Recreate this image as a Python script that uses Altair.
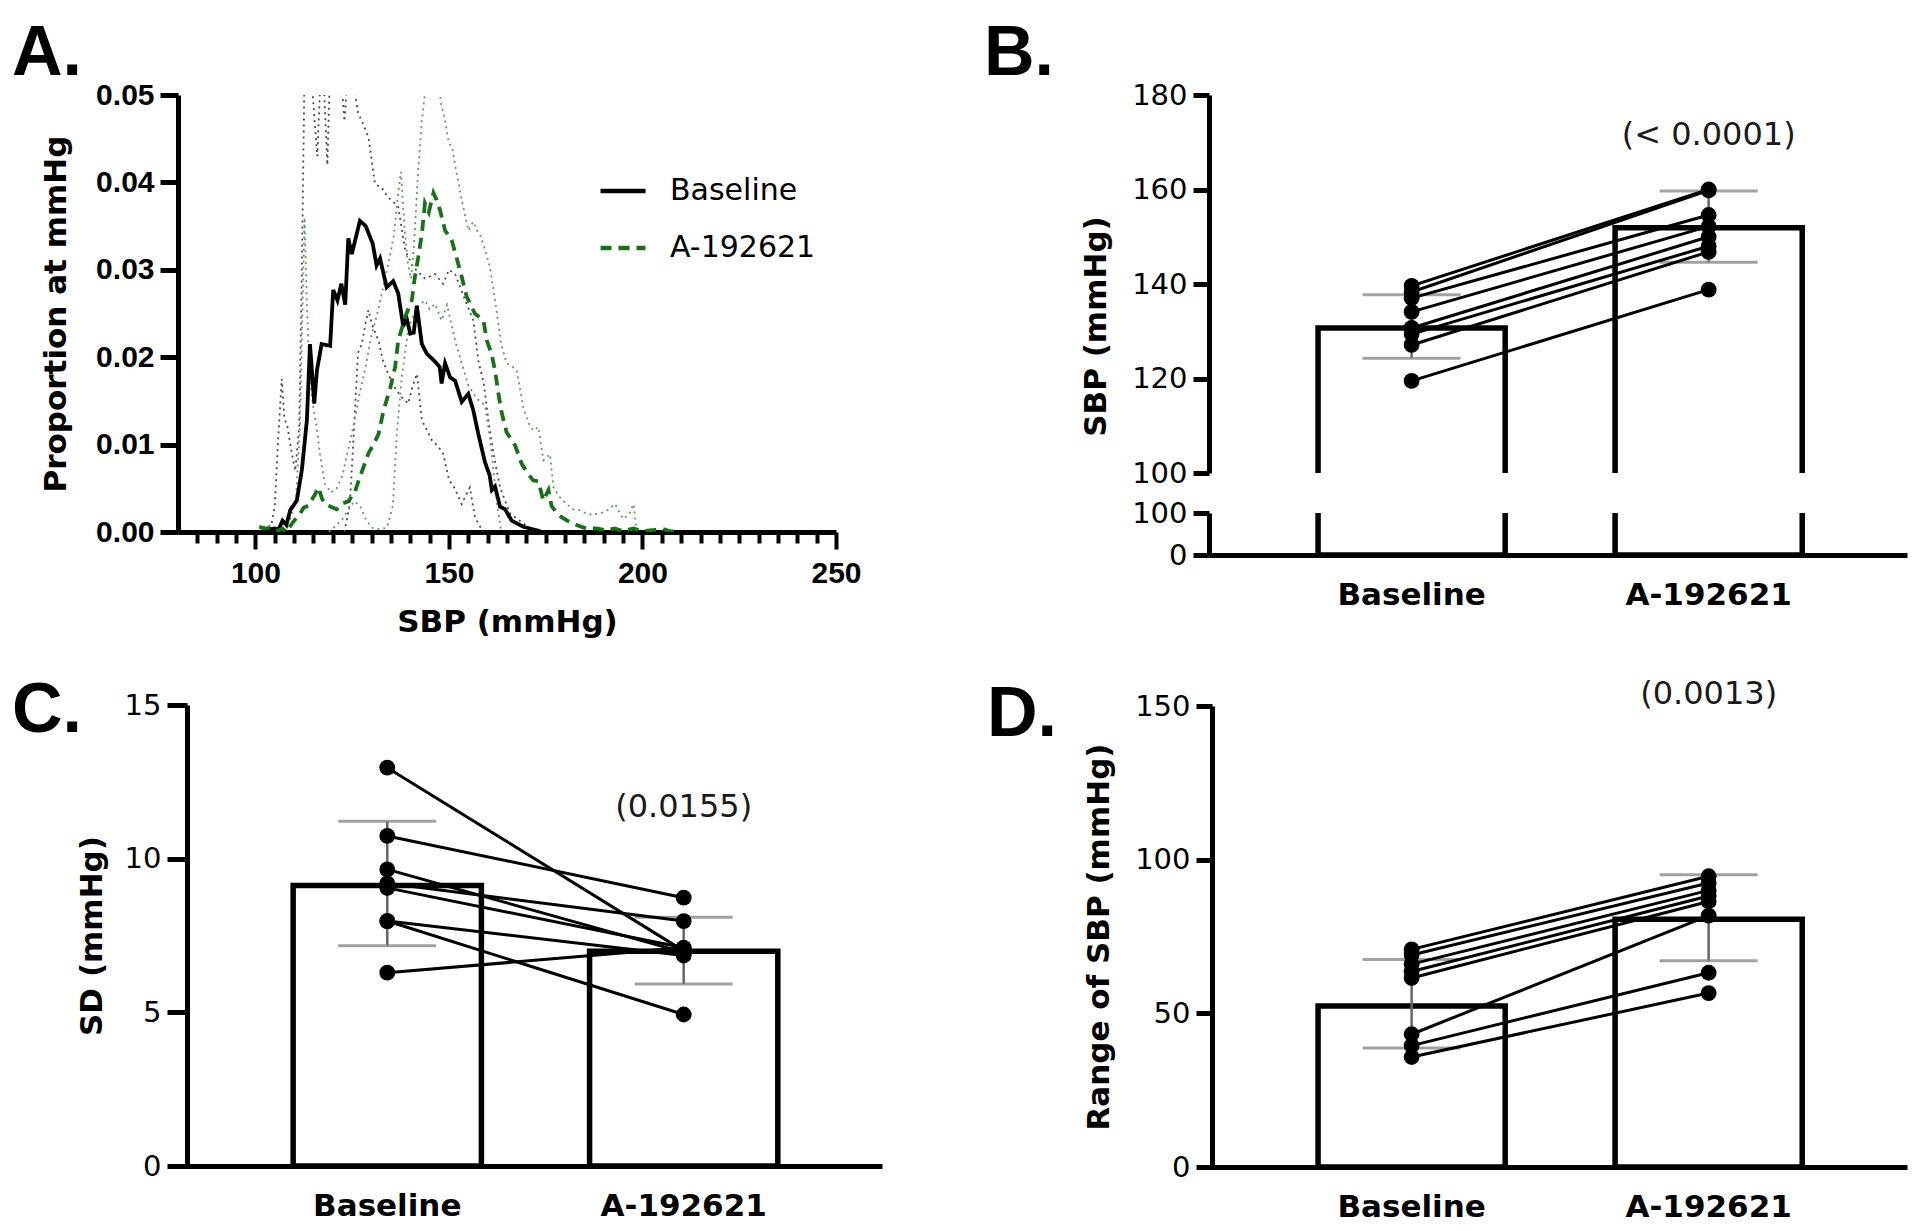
import altair as alt
import pandas as pd

FONT = "DejaVu Sans"
TICKFONT_A = "Liberation Sans"
LETTER_FONT = "Liberation Sans"
GROUPS = ["Baseline", "A-192621"]

# ---------------- Panel A: distribution of SBP ----------------
base_mean_sbp = [101, 103, 105, 106, 107, 108, 109, 110.7, 112, 113.3, 114.1, 115.2, 115.9, 117.1, 119.3, 120.1,
                 121.2, 122.2, 123.2, 124, 124.9, 127, 128.5, 130.3, 131.3, 132.2, 133.9, 135.6, 136.9, 138.2, 139,
                 140, 140.9, 141.7, 143, 144.3, 146.4, 147.6, 148.1, 149, 150.3, 151.6, 153.3, 155, 156.3, 157.6,
                 159.3, 160.5, 161.1, 161.9, 163.2, 164.5, 166.2, 169.2, 172.7, 174]
base_mean_prop = [0.0, 0.0002, 0.0004, 0.0003, 0.0013, 0.0008, 0.0025, 0.0036, 0.0071, 0.0128, 0.0215, 0.0147,
                  0.0185, 0.0215, 0.0213, 0.0277, 0.0265, 0.0284, 0.0260, 0.0336, 0.0318, 0.0356, 0.0350, 0.0330,
                  0.0305, 0.0313, 0.0280, 0.0287, 0.0273, 0.0235, 0.0246, 0.0227, 0.0228, 0.0259, 0.0215, 0.0204,
                  0.0195, 0.0189, 0.0170, 0.0193, 0.0177, 0.0173, 0.0149, 0.0158, 0.0139, 0.0112, 0.0080, 0.0065,
                  0.0048, 0.0052, 0.0029, 0.0026, 0.0013, 0.0006, 0.0002, 0.0]

drug_mean_sbp = [101, 102.5, 104, 105.5, 107, 108, 109.5, 111.5, 112.5, 113.7, 115, 116.3, 117.2, 118, 119.5, 121,
                 122.7, 124, 125.7, 127, 129.2, 130.5, 131.8, 133.1, 134.8, 136.1, 136.9, 138.7, 140.4, 141.2,
                 142.1, 143, 143.8, 144.8, 146, 146.8, 147.7, 149, 150.7, 151.6, 153.3, 154.6, 156.7, 158.9, 159.8,
                 161, 161.9, 162.8, 163.6, 164.9, 167.1, 168.8, 170.5, 171.8, 173.1, 174.4, 175.7, 176.5, 177.8,
                 179.1, 181, 183, 185.5, 188.2, 190.5, 192.8, 195, 197.7, 200, 202.5, 205, 207, 209.5]
drug_mean_prop = [0.0006, 0.0004, 0.0005, 0.0001, 0.0004, 0.0, 0.0010, 0.0021, 0.0028, 0.0030, 0.0040, 0.0051,
                  0.0038, 0.0032, 0.0029, 0.0026, 0.0033, 0.0035, 0.0046, 0.0063, 0.0090, 0.0100, 0.0112, 0.0139,
                  0.0164, 0.0189, 0.0219, 0.0246, 0.0265, 0.0292, 0.0315, 0.0341, 0.0376, 0.0366, 0.0388, 0.0380,
                  0.0368, 0.0345, 0.0334, 0.0320, 0.0292, 0.0269, 0.0250, 0.0242, 0.0219, 0.0204, 0.0185, 0.0158,
                  0.0137, 0.0114, 0.0099, 0.0078, 0.0066, 0.0059, 0.0058, 0.0036, 0.0048, 0.0030, 0.0022, 0.0017,
                  0.0012, 0.0008, 0.0004, 0.0004, 0.0002, 0.0004, 0.0001, 0.0004, 0.0001, 0.0002, 0.0004, 0.0001,
                  0.0]

base_upper_sbp = [102.5, 104, 105, 105.8, 106.8, 107.5, 108.3, 109.4, 110.3, 111.3, 112, 112.6, 113.3, 114.5,
                  115.3, 116, 116.8, 117.8, 118.6, 119.4, 121, 122.2, 123, 123.8, 125.5, 126.5, 127.5, 129.2,
                  130.9, 132.6, 134.3, 136.9, 138.7, 140.8, 143.8, 146.4, 148.5, 150, 151.6, 154.2, 156.3, 157.6,
                  159, 160.2, 161.5, 163.2, 165.8, 169.2, 171.8]
base_upper_prop = [0.0, 0.0005, 0.003, 0.010, 0.0175, 0.013, 0.012, 0.009, 0.007, 0.012, 0.030, 0.050, 0.056,
                   0.052, 0.047, 0.043, 0.052, 0.050, 0.042, 0.055, 0.056, 0.052, 0.047, 0.052, 0.051, 0.048, 0.047,
                   0.0452, 0.0398, 0.0394, 0.0383, 0.0372, 0.0322, 0.0303, 0.0290, 0.0295, 0.0284, 0.0300, 0.0295,
                   0.0265, 0.0242, 0.0196, 0.0170, 0.0128, 0.0090, 0.0051, 0.0021, 0.0010, 0.0]

base_lower_sbp = [123, 124.4, 125.5, 126.5, 127.5, 128.5, 129.2, 130.3, 131.8, 133, 134.3, 136, 137.8, 139.5,
                  140.5, 141.7, 143, 145.6, 147.2, 148.5, 150, 151.5, 153.3, 155.4, 156.7, 158.8]
base_lower_prop = [0.0, 0.0032, 0.012, 0.0205, 0.0215, 0.024, 0.0254, 0.0235, 0.0219, 0.0195, 0.0181, 0.0165,
                   0.0154, 0.0147, 0.0165, 0.0181, 0.0128, 0.0105, 0.0098, 0.0090, 0.0060, 0.0050, 0.0032, 0.0051,
                   0.0017, 0.0]

drug_upper_sbp = [101, 103, 105, 107, 109, 110.5, 111.5, 112.2, 112.7, 113.3, 114, 114.8, 115.8, 116.8, 118, 119.5,
                  121, 122.5, 124, 125.5, 127, 128.5, 130, 131.5, 133, 134.5, 135.8, 136.8, 137.6, 138.5, 139.3,
                  140.2, 141, 142, 143, 144, 145.5, 146.3, 147, 148, 149, 150, 150.8, 151.8, 153.3, 155, 156.3,
                  157.2, 158, 159.2, 160.6, 162.4, 163.5, 164.9, 166.2, 167.5, 169.2, 170.5, 171.8, 173.1, 174.4,
                  176.1, 177, 178.6, 180.4, 182, 183.8, 186, 189, 191, 192.9, 195, 196.5, 197.7, 198.5]
drug_upper_prop = [0.0, 0.0008, 0.0005, 0.0008, 0.0015, 0.004, 0.012, 0.026, 0.036, 0.026, 0.018, 0.0147, 0.012,
                   0.0085, 0.0055, 0.0045, 0.005, 0.0065, 0.0095, 0.0125, 0.016, 0.019, 0.0225, 0.025, 0.028, 0.031,
                   0.034, 0.0385, 0.0412, 0.035, 0.031, 0.029, 0.033, 0.041, 0.047, 0.051, 0.050, 0.053, 0.052,
                   0.049, 0.047, 0.0445, 0.044, 0.0415, 0.038, 0.0345, 0.0355, 0.0345, 0.0341, 0.0325, 0.0303,
                   0.0250, 0.0215, 0.0193, 0.0190, 0.0185, 0.0143, 0.0125, 0.0116, 0.0120, 0.0082, 0.0089, 0.0051,
                   0.0040, 0.0032, 0.0026, 0.0025, 0.0020, 0.0021, 0.0025, 0.0032, 0.0015, 0.0020, 0.0032, 0.0]

drug_lower_sbp = [119, 121, 122.5, 124, 125.5, 127, 128.5, 130, 132, 134, 135.5, 136.5, 137.8, 139.5, 141.7, 143.8,
                  145, 146.4, 148.1, 149.5, 151.6, 153.3, 155, 157.1, 159.3, 160.5, 161.5, 162.5, 163.5]
drug_lower_prop = [0.0, 0.0008, 0.0015, 0.0025, 0.0035, 0.003, 0.0015, 0.0005, 0.0003, 0.0005, 0.003, 0.011,
                   0.0177, 0.0233, 0.0257, 0.0265, 0.0255, 0.0261, 0.0242, 0.0260, 0.0219, 0.0193, 0.0168, 0.0153,
                   0.0145, 0.0110, 0.0070, 0.0030, 0.0]

# ---------------- Panel B: mean SBP ----------------
sbp_baseline = [139.6, 138.3, 137.0, 134.1, 130.7, 129.4, 127.1, 119.5]
sbp_drug = [160.0, 159.8, 154.6, 152.2, 150.0, 148.0, 146.8, 138.8]
sbp_bar = [130.7, 151.9]
sbp_err_lo = [124.3, 144.6]
sbp_err_hi = [137.7, 159.7]

# ---------------- Panel C: SD of SBP ----------------
sd_baseline = [12.96, 10.74, 9.65, 9.2, 9.05, 7.97, 7.97, 6.29]
sd_drug = [7.0, 8.73, 6.95, 7.97, 7.1, 6.85, 4.93, 7.1]
sd_bar = [9.13, 6.99]
sd_err_lo = [7.17, 5.92]
sd_err_hi = [11.22, 8.09]

# ---------------- Panel D: range of SBP ----------------
rng_baseline = [70.8, 69.0, 66.0, 63.6, 61.5, 43.2, 39.5, 35.8]
rng_drug = [94.6, 92.4, 90.0, 88.2, 86.4, 81.8, 63.2, 56.6]
rng_bar = [52.4, 80.6]
rng_err_lo = [38.7, 67.1]
rng_err_hi = [67.5, 95.1]

p_values = ["(< 0.0001)", "(0.0155)", "(0.0013)"]
p_value_y = [171.5, 11.68, 153.9]
panel_letters = ["A.", "B.", "C.", "D."]

LETTER_SIZE = 70


def curve(xs, ys, name):
    return pd.DataFrame({"sbp": xs, "prop": ys, "series": name})


mean_df = pd.concat([curve(base_mean_sbp, base_mean_prop, "Baseline"),
                     curve(drug_mean_sbp, drug_mean_prop, "A-192621")], ignore_index=True)
black_sd_df = pd.concat([curve(base_upper_sbp, base_upper_prop, "upper"),
                         curve(base_lower_sbp, base_lower_prop, "lower")], ignore_index=True)
green_sd_df = pd.concat([curve(drug_upper_sbp, drug_upper_prop, "upper"),
                         curve(drug_lower_sbp, drug_lower_prop, "lower")], ignore_index=True)


def letter_layer(text, x, y):
    return alt.Chart(pd.DataFrame({"t": [text]})).mark_text(
        align="left", baseline="alphabetic", font=LETTER_FONT, fontSize=LETTER_SIZE, fontWeight="bold",
        color="black"
    ).encode(x=alt.value(x), y=alt.value(y), text="t:N")


# ---------- Panel A chart ----------
A_W, A_H = 658, 437
xA = alt.X("sbp:Q", scale=alt.Scale(domain=[80, 250], nice=False, zero=False),
           axis=alt.Axis(values=list(range(85, 251, 5)),
                         labelExpr="datum.value % 50 === 0 ? datum.label : ''",
                         tickSize={"condition": {"test": "datum.value % 50 === 0", "value": 17}, "value": 11},
                         tickWidth=4, domainWidth=5, labelFont=TICKFONT_A, labelFontWeight="bold",
                         labelFontSize=30, labelPadding=9, labelFlush=False, labelOverlap=False,
                         title="SBP (mmHg)", titleFont=FONT, titleFontWeight="bold", titleFontSize=31,
                         titleY=75, titleBaseline="top"))
yA = alt.Y("prop:Q", scale=alt.Scale(domain=[0, 0.05], nice=False),
           axis=alt.Axis(values=[0, 0.01, 0.02, 0.03, 0.04, 0.05], format=".2f", tickSize=18, tickWidth=5,
                         domainWidth=5, labelPadding=6, labelFont=TICKFONT_A, labelFontWeight="bold",
                         labelFontSize=30, title="Proportion at mmHg", titleFont=FONT, titleFontWeight="bold",
                         titleFontSize=31, titleAngle=270, titleX=-122, titleY=A_H / 2,
                         titleBaseline="middle", titleAlign="center"))

legendA = alt.Legend(title=None, orient="none", legendX=420, legendY=71, symbolType="stroke", symbolSize=2025,
                     symbolStrokeWidth=4.5, labelFont=FONT, labelFontSize=30, labelColor="black",
                     labelOffset=22, rowPadding=17, padding=0)

dots_black = alt.Chart(black_sd_df).mark_line(color="#4a4a4a", strokeWidth=1.8, strokeDash=[2, 4], clip=True).encode(
    x=xA, y=yA, detail="series:N")
dots_green = alt.Chart(green_sd_df).mark_line(color="#5aa05a", strokeWidth=1.8, strokeDash=[2, 4], clip=True).encode(
    x=xA, y=yA, detail="series:N")
means = alt.Chart(mean_df).mark_line(strokeWidth=3.8, clip=True).encode(
    x=xA, y=yA,
    color=alt.Color("series:N", scale=alt.Scale(domain=GROUPS, range=["#000000", "#1b6f1b"]), legend=legendA),
    strokeDash=alt.StrokeDash("series:N", scale=alt.Scale(domain=GROUPS, range=[[1, 0], [11, 7]]), legend=legendA),
)
panelA = alt.layer(dots_black, dots_green, means, letter_layer(panel_letters[0], -166, -20)).properties(
    width=A_W, height=A_H)


# ---------- bar panels ----------
def pts_frame(base, drug):
    n = len(base)
    return pd.DataFrame({"subject": list(range(n)) * 2,
                         "cond": ["Baseline"] * n + ["A-192621"] * n,
                         "val": base + drug})


def summ_frame(bar, lo, hi):
    return pd.DataFrame({"cond": GROUPS, "mean": bar, "lo": lo, "hi": hi})


def xcat(axis, pi, po, align):
    return alt.X("cond:N", scale=alt.Scale(domain=GROUPS, paddingInner=pi, paddingOuter=po, align=align),
                 axis=axis)


def cat_axis(offset=0):
    return alt.Axis(title=None, ticks=False, tickSize=0, labelAngle=0, labelFont=FONT, labelFontWeight="bold",
                    labelFontSize=31, labelPadding=25, labelColor="black", domainWidth=5, offset=offset)


def val_axis(values, title=None, tick=16, offset=0, titleX=None, titleY=None):
    kw = dict(values=values, tickSize=tick, tickWidth=5, domainWidth=5, labelFont=FONT, labelFontSize=29,
              labelPadding=6, labelColor="black", offset=offset)
    if title:
        kw.update(title=title, titleFont=FONT, titleFontWeight="bold", titleFontSize=31, titleAngle=270,
                  titleX=titleX, titleY=titleY, titleBaseline="middle", titleAlign="center")
    else:
        kw["title"] = None
    return alt.Axis(**kw)


def bar_panel(pts, summ, x, yscale, yax, width, height, ann=None, letter=None, full=True):
    def Y(f):
        return alt.Y(f, type="quantitative", scale=yscale, axis=yax)

    layers = [alt.Chart(summ).mark_bar(fill="white", stroke="black", strokeWidth=5.5, clip=True).encode(
        x=x, y=Y("mean"), y2=alt.datum(0))]
    if full:
        layers += [
            alt.Chart(summ).mark_rule(color="#666666", strokeWidth=2.5).encode(x=x, y=Y("lo"), y2="hi"),
            alt.Chart(summ).mark_tick(color="#7a7a7a", thickness=3, size=98).encode(x=x, y=Y("lo")),
            alt.Chart(summ).mark_tick(color="#7a7a7a", thickness=3, size=98).encode(x=x, y=Y("hi")),
            alt.Chart(pts).mark_line(color="black", strokeWidth=3).encode(x=x, y=Y("val"), detail="subject:N"),
            alt.Chart(pts).mark_circle(color="black", size=250, opacity=1).encode(x=x, y=Y("val")),
        ]
    if ann is not None:
        layers.append(alt.Chart(pd.DataFrame({"cond": ["A-192621"], "val": [ann[1]], "t": [ann[0]]})).mark_text(
            font=FONT, fontSize=32, color="#1a1a1a").encode(x=x, y=Y("val"), text="t:N"))
    if letter is not None:
        layers.append(letter_layer(*letter))
    return alt.layer(*layers).properties(width=width, height=height)


BD_W = 698
ptsB = pts_frame(sbp_baseline, sbp_drug)
summB = summ_frame(sbp_bar, sbp_err_lo, sbp_err_hi)
panelB_up = bar_panel(
    ptsB, summB, xcat(None, 0.37, 0.36, 0.51),
    alt.Scale(domain=[100, 180], nice=False, zero=False),
    val_axis([100, 120, 140, 160, 180], "SBP (mmHg)", 16, 0, -113, 231),
    BD_W, 378, ann=(p_values[0], p_value_y[0]), letter=(panel_letters[1], -225, -20))
LOW_H = 153
panelB_low = bar_panel(
    ptsB, summB, xcat(cat_axis(-(LOW_H - 42)), 0.37, 0.36, 0.51),
    alt.Scale(domain=[0, 100], range=[42, 0], nice=False),
    val_axis([0, 100], None, 16, 0), BD_W, LOW_H, full=False)

panelC = bar_panel(
    pts_frame(sd_baseline, sd_drug), summ_frame(sd_bar, sd_err_lo, sd_err_hi),
    xcat(cat_axis(0), 0.365, 0.37, 0.525),
    alt.Scale(domain=[0, 15], nice=False),
    val_axis([0, 5, 10, 15], "SD (mmHg)", 20, -9, -95, 230.5),
    704, 461, ann=(p_values[1], p_value_y[1]), letter=(panel_letters[2], -166, 27))

panelD = bar_panel(
    pts_frame(rng_baseline, rng_drug), summ_frame(rng_bar, rng_err_lo, rng_err_hi),
    xcat(cat_axis(0), 0.37, 0.36, 0.51),
    alt.Scale(domain=[0, 150], nice=False),
    val_axis([0, 50, 100, 150], "Range of SBP (mmHg)", 16, -3, -113, 230.5),
    BD_W, 461, ann=(p_values[2], p_value_y[2]), letter=(panel_letters[3], -222, 30))

left = alt.vconcat(panelA, panelC, spacing=173, bounds="flush").resolve_scale(
    x="independent", y="independent")
right = alt.vconcat(panelB_up, panelB_low, panelD, spacing=40, bounds="flush").resolve_scale(
    x="independent", y="independent")

chart = alt.hconcat(left, right, spacing=102).resolve_scale(
    x="independent", y="independent", color="independent", strokeDash="independent"
).properties(
    padding={"left": 4, "top": 11, "right": 2, "bottom": 0}
).configure_view(stroke=None).configure_axis(
    grid=False, domainColor="black", tickColor="black", labelColor="black", titleColor="black"
)

chart.save("out.html", embed_options={"renderer": "svg", "actions": False})
